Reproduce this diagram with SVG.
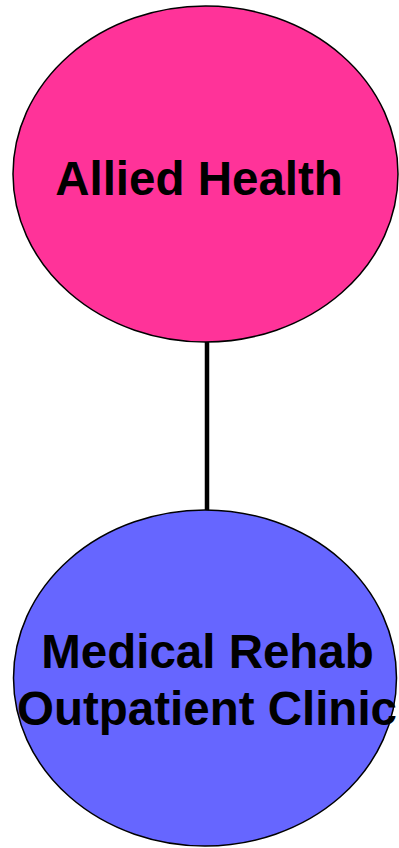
<svg xmlns="http://www.w3.org/2000/svg" width="399" height="848" viewBox="0 0 399 848">
<style>
.node{stroke:#000;stroke-width:1.5}
.lbl{font-family:"Liberation Sans",Arial,sans-serif;font-weight:bold;font-size:47.5px;fill:#000;text-anchor:middle}
.conn{stroke:#000;stroke-width:4.5;fill:none}
</style>
<rect width="399" height="848" fill="#fff"/>
<g id="connectors">
<line class="conn" x1="207" y1="342" x2="207" y2="511"/>
</g>
<g id="allied-health">
<ellipse class="node" cx="205.5" cy="174" rx="192.5" ry="168" fill="#FF3399"/>
<text class="lbl" x="199" y="195">Allied Health</text>
</g>
<g id="medical-rehab">
<ellipse class="node" cx="205" cy="678" rx="191.5" ry="168" fill="#6666FF"/>
<text class="lbl" x="207.5" y="668">Medical Rehab</text>
<text class="lbl" x="207" y="725">Outpatient Clinic</text>
</g>
</svg>
